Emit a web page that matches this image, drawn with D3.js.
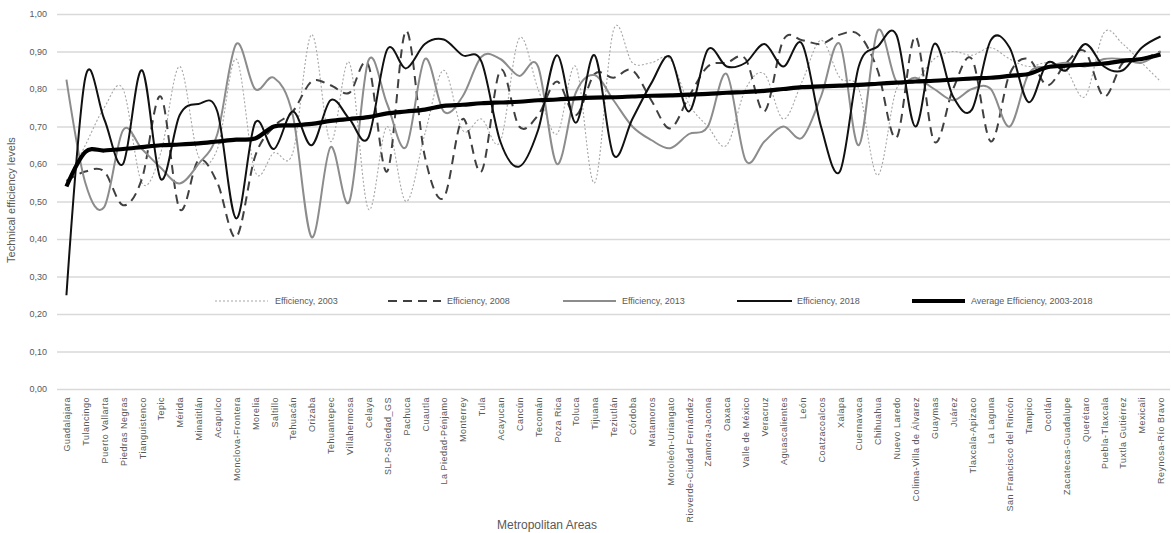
<!DOCTYPE html>
<html>
<head>
<meta charset="utf-8">
<script src="https://cdn.jsdelivr.net/npm/d3@7"></script>
<style>
  html, body { margin: 0; padding: 0; background: #ffffff; }
  svg { display: block; }
  text { font-family: "Liberation Sans", Arial, sans-serif; }
</style>
</head>
<body>
<svg id="chart" width="1171" height="533"></svg>
<script>
const categories = ["Guadalajara","Tulancingo","Puerto Vallarta","Piedras Negras","Tianguistenco","Tepic","Mérida","Minatitlán","Acapulco","Monclova-Frontera","Morelia","Saltillo","Tehuacán","Orizaba","Tehuantepec","Villahermosa","Celaya","SLP-Soledad_GS","Pachuca","Cuautla","La Piedad-Pénjamo","Monterrey","Tula","Acayucan","Cancún","Tecomán","Poza Rica","Toluca","Tijuana","Teziutlán","Córdoba","Matamoros","Moroleón-Uriangato","Rioverde-Ciudad Fernández","Zamora-Jacona","Oaxaca","Valle de México","Veracruz","Aguascalientes","León","Coatzacoalcos","Xalapa","Cuernavaca","Chihuahua","Nuevo Laredo","Colima-Villa de Álvarez","Guaymas","Juárez","Tlaxcala-Apizaco","La Laguna","San Francisco del Rincón","Tampico","Ocotlán","Zacatecas-Guadalupe","Querétaro","Puebla-Tlaxcala","Tuxtla Gutiérrez","Mexicali","Reynosa-Río Bravo"];

const eff2003 = [0.55,0.65,0.75,0.80,0.55,0.63,0.86,0.62,0.64,0.88,0.58,0.63,0.63,0.945,0.66,0.87,0.48,0.70,0.50,0.68,0.85,0.69,0.72,0.66,0.935,0.80,0.68,0.86,0.55,0.957,0.87,0.87,0.88,0.76,0.70,0.65,0.80,0.84,0.72,0.82,0.93,0.83,0.80,0.57,0.80,0.82,0.88,0.90,0.89,0.91,0.88,0.86,0.87,0.85,0.78,0.95,0.92,0.87,0.82];

const eff2008 = [0.555,0.58,0.58,0.49,0.56,0.78,0.48,0.61,0.55,0.405,0.62,0.70,0.74,0.82,0.81,0.79,0.865,0.58,0.955,0.62,0.51,0.72,0.58,0.85,0.70,0.73,0.82,0.73,0.84,0.83,0.85,0.77,0.695,0.78,0.86,0.87,0.88,0.74,0.93,0.93,0.92,0.945,0.945,0.85,0.67,0.94,0.66,0.80,0.88,0.66,0.84,0.88,0.81,0.87,0.90,0.78,0.87,0.88,0.90];

const eff2013 = [0.825,0.55,0.485,0.69,0.64,0.59,0.548,0.60,0.68,0.92,0.80,0.83,0.73,0.405,0.645,0.50,0.875,0.76,0.645,0.88,0.74,0.78,0.886,0.88,0.835,0.86,0.60,0.79,0.837,0.77,0.70,0.664,0.642,0.68,0.70,0.84,0.61,0.66,0.70,0.67,0.78,0.92,0.65,0.955,0.82,0.83,0.80,0.77,0.80,0.80,0.70,0.84,0.86,0.87,0.86,0.88,0.88,0.87,0.90];

const eff2018 = [0.25,0.83,0.72,0.60,0.85,0.56,0.73,0.76,0.74,0.455,0.71,0.64,0.74,0.65,0.77,0.72,0.67,0.905,0.855,0.92,0.932,0.89,0.873,0.66,0.593,0.69,0.89,0.71,0.89,0.624,0.72,0.815,0.886,0.74,0.905,0.86,0.87,0.92,0.86,0.92,0.70,0.58,0.86,0.913,0.944,0.70,0.92,0.78,0.745,0.93,0.91,0.765,0.87,0.85,0.92,0.86,0.85,0.91,0.94];

const effAverage = [0.54,0.632,0.636,0.64,0.645,0.65,0.652,0.655,0.66,0.665,0.668,0.70,0.703,0.707,0.715,0.72,0.725,0.735,0.74,0.745,0.755,0.758,0.762,0.764,0.766,0.77,0.772,0.775,0.777,0.778,0.78,0.782,0.783,0.785,0.787,0.79,0.792,0.795,0.80,0.805,0.807,0.809,0.811,0.814,0.817,0.82,0.822,0.825,0.828,0.83,0.835,0.84,0.858,0.862,0.865,0.868,0.875,0.88,0.892];

const yTicks = [0,0.1,0.2,0.3,0.4,0.5,0.6,0.7,0.8,0.9,1.0];

const seriesNames = ["Efficiency, 2003","Efficiency, 2008","Efficiency, 2013","Efficiency, 2018","Average Efficiency, 2003-2018"];

const series = [
  {name: seriesNames[0], values: eff2003, color: "#a6a6a6", width: 1.1, dash: "2,2"},
  {name: seriesNames[1], values: eff2008, color: "#404040", width: 2, dash: "9,6"},
  {name: seriesNames[2], values: eff2013, color: "#8c8c8c", width: 2, dash: null},
  {name: seriesNames[3], values: eff2018, color: "#111111", width: 2, dash: null},
  {name: seriesNames[4], values: effAverage, color: "#000000", width: 4.2, dash: null}
];

const svg = d3.select("#chart");
const plotLeft = 57, plotRight = 1170, plotTop = 14, plotBottom = 389;

const x = d3.scalePoint().domain(categories).range([plotLeft, plotRight]).padding(0.5);
const y = d3.scaleLinear().domain([0, 1]).range([plotBottom, plotTop]);

const fmt = v => d3.format(".2f")(v).replace(".", ",");

// gridlines + y labels
const yAxis = d3.axisLeft(y).tickValues(yTicks).tickFormat(fmt).tickSize(-(plotRight - plotLeft)).tickPadding(10);
const gy = svg.append("g").attr("transform", `translate(${plotLeft},0)`).call(yAxis);
gy.select(".domain").remove();
gy.selectAll(".tick line").attr("stroke", "#d9d9d9").attr("stroke-width", 1.4);
gy.selectAll(".tick text").attr("fill", "#595959").attr("font-size", 9).attr("x", -10);

// x axis labels
const xAxis = d3.axisBottom(x).tickSize(0).tickPadding(0);
const gx = svg.append("g").attr("transform", `translate(0,${plotBottom})`).call(xAxis);
gx.select(".domain").remove();
gx.selectAll(".tick text")
  .attr("fill", "#595959")
  .attr("font-size", 9)
  .attr("letter-spacing", 0.5)
  .attr("text-anchor", "end")
  .attr("transform", "rotate(-90)")
  .attr("x", -8)
  .attr("y", 0)
  .attr("dy", "0.35em");

// lines
const line = d3.line()
  .x((d, i) => x(categories[i]))
  .y(d => y(d))
  .curve(d3.curveCatmullRom.alpha(0));

const gLines = svg.append("g");
series.forEach(s => {
  gLines.append("path")
    .datum(s.values)
    .attr("fill", "none")
    .attr("stroke", s.color)
    .attr("stroke-width", s.width)
    .attr("stroke-dasharray", s.dash)
    .attr("stroke-linejoin", "round")
    .attr("d", line);
});

// legend
const legendY = 301;
const legendItems = [
  {x1: 215, x2: 268, tx: 275},
  {x1: 388, x2: 441, tx: 447},
  {x1: 563, x2: 616, tx: 622},
  {x1: 737, x2: 792, tx: 797},
  {x1: 912, x2: 965, tx: 971}
];
const gLeg = svg.append("g");
series.forEach((s, i) => {
  const it = legendItems[i];
  gLeg.append("line")
    .attr("x1", it.x1).attr("x2", it.x2)
    .attr("y1", legendY).attr("y2", legendY)
    .attr("stroke", s.color)
    .attr("stroke-width", s.width)
    .attr("stroke-dasharray", s.dash);
  gLeg.append("text")
    .attr("x", it.tx).attr("y", legendY)
    .attr("dy", "0.35em")
    .attr("font-size", 9)
    .attr("fill", "#595959")
    .text(s.name);
});

// axis titles
svg.append("text")
  .attr("transform", `translate(15,200) rotate(-90)`)
  .attr("text-anchor", "middle")
  .attr("font-size", 11)
  .attr("fill", "#595959")
  .text("Technical efficiency levels");

svg.append("text")
  .attr("x", 547).attr("y", 529)
  .attr("text-anchor", "middle")
  .attr("font-size", 12)
  .attr("fill", "#595959")
  .text("Metropolitan Areas");
</script>
</body>
</html>
